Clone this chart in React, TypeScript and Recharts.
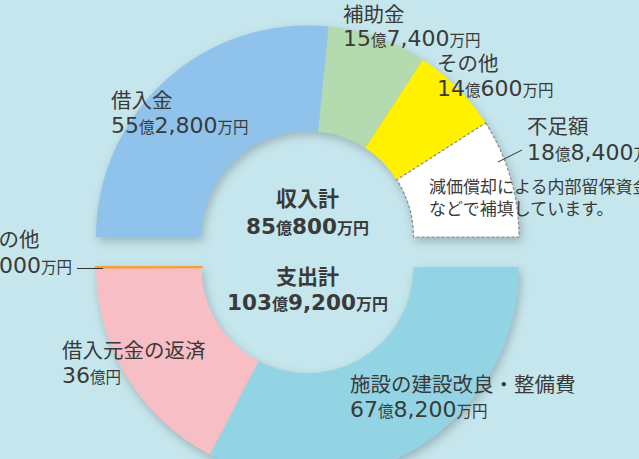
import React from "react";
import { PieChart, Pie, Cell } from "recharts";

const incomeNames = ["借入金", "補助金", "その他", "不足額"];
const incomeValues = [55.28, 15.74, 14.06, 18.84];
const incomeColors = ["#90c3eb", "#b4dab0", "#fff100", "#ffffff"];

const expenseNames = ["施設の建設改良・整備費", "借入元金の返済", "その他"];
const expenseValues = [67.82, 36, 0.1];
const expenseColors = ["#92d4e3", "#f7bec6", "#f3a13a"];

const incomeData = incomeNames.map((name, i) => ({ name, value: incomeValues[i] }));
const expenseData = expenseNames.map((name, i) => ({ name, value: expenseValues[i] }));

const BG = "#c6e6ed";
const TXT = "#3a3a3a";
const FONT = "'Noto Sans CJK JP', 'Noto Sans', sans-serif";
const NUMFONT = "'DejaVu Sans', 'Noto Sans', sans-serif";

type Part = [string, number, boolean?];
const Line = ({ x, y, parts, anchor = "start", weight = 400 }: { x: number; y: number; parts: Part[]; anchor?: string; weight?: number }) => (
  <text x={x} y={y} textAnchor={anchor as any} fill={TXT} fontFamily={FONT} fontWeight={weight}>
    {parts.map(([t, s, num], i) => (
      <tspan key={i} fontSize={s} fontFamily={num ? NUMFONT : FONT} fontWeight={weight}>{t}</tspan>
    ))}
  </text>
);

const N = 22;
const U = 15.5;
const L = 20.5;
const CN = 21.5;
const CU = 16;

export default function App() {
  return (
    <div style={{ position: "absolute", left: 0, top: 0, width: 639, height: 459, background: BG, overflow: "hidden" }}>
      <div style={{ position: "absolute", left: 0, top: 0, filter: "drop-shadow(2px 4px 5px rgba(0,0,0,0.22))" }}>
        <PieChart width={639} height={459} margin={{ top: 0, right: 0, bottom: 0, left: 0 }}>
          <Pie
            data={incomeData}
            dataKey="value"
            cx={307.5}
            cy={237}
            startAngle={180}
            endAngle={0}
            innerRadius={106}
            outerRadius={211.5}
            isAnimationActive={false}
            stroke="none"
          >
            {incomeData.map((d, i) => (
              <Cell
                key={d.name}
                fill={incomeColors[i]}
                stroke={i === 3 ? "#8a8a8a" : "none"}
                strokeWidth={i === 3 ? 1.2 : 0}
                strokeDasharray={i === 3 ? "3 2" : undefined}
              />
            ))}
          </Pie>
          <Pie
            data={expenseData}
            dataKey="value"
            cx={307.5}
            cy={267}
            startAngle={0}
            endAngle={-180}
            innerRadius={106}
            outerRadius={211.5}
            isAnimationActive={false}
            stroke="none"
          >
            {expenseData.map((d, i) => (
              <Cell
                key={d.name}
                fill={expenseColors[i]}
                stroke={i === 2 ? expenseColors[i] : "none"}
                strokeWidth={i === 2 ? 2 : 0}
              />
            ))}
          </Pie>
        </PieChart>
      </div>
      <svg width={639} height={459} style={{ position: "absolute", left: 0, top: 0, pointerEvents: "none" }}>
        <Line x={111} y={108} parts={[["借入金", L]]} />
        <Line x={111} y={133} parts={[["55", N, true], ["億", U], ["2,800", N, true], ["万円", U]]} />

        <Line x={343} y={22} parts={[["補助金", L]]} />
        <Line x={343} y={46} parts={[["15", N, true], ["億", U], ["7,400", N, true], ["万円", U]]} />

        <Line x={437} y={71} parts={[["その他", L]]} />
        <Line x={437} y={96} parts={[["14", N, true], ["億", U], ["600", N, true], ["万円", U]]} />

        <Line x={527} y={134} parts={[["不足額", L]]} />
        <Line x={527} y={160} parts={[["18", N, true], ["億", U], ["8,400", N, true], ["万円", U]]} />
        <line x1={498} y1={162} x2={522} y2={150} stroke="#333" strokeWidth={1} />

        <Line x={429} y={193} parts={[["減価償却による内部留保資金", 17]]} />
        <Line x={429} y={215} parts={[["などで補填しています。", 17]]} />

        <Line x={307.5} y={206} anchor="middle" weight={700} parts={[["収入計", 21]]} />
        <Line x={307.5} y={234} anchor="middle" weight={700} parts={[["85", CN, true], ["億", CU], ["800", CN, true], ["万円", CU]]} />
        <Line x={307.5} y={284} anchor="middle" weight={700} parts={[["支出計", 21]]} />
        <Line x={307.5} y={310} anchor="middle" weight={700} parts={[["103", CN, true], ["億", CU], ["9,200", CN, true], ["万円", CU]]} />

        <Line x={-22} y={247} parts={[["その他", L]]} />
        <Line x={-22} y={273} parts={[["1,000", N, true], ["万円", U]]} />
        <line x1={77} y1={268.5} x2={103} y2={268.5} stroke="#333" strokeWidth={1} />

        <Line x={62} y={358} parts={[["借入元金の返済", L]]} />
        <Line x={62} y={383} parts={[["36", N, true], ["億円", U]]} />

        <Line x={350} y={392} parts={[["施設の建設改良・整備費", L]]} />
        <Line x={350} y={417} parts={[["67", N, true], ["億", U], ["8,200", N, true], ["万円", U]]} />
      </svg>
    </div>
  );
}
